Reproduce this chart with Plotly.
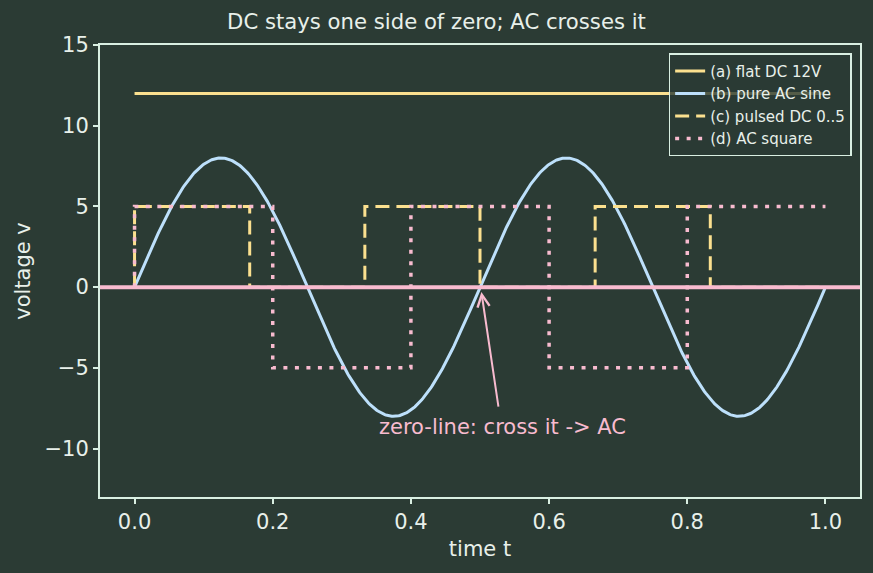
import numpy as np
import plotly.graph_objects as go

# --- data ---
dc_t = [0.0, 1.0]
dc_v = [12, 12]

sine_amp = 8.0
sine_period = 0.5
sine_t = np.linspace(0, 1, 600)
sine_v = sine_amp * np.sin(2 * np.pi * sine_t / sine_period)

pulsed_t = [0.0, 0.0, 1/6, 1/6, 1/3, 1/3, 1/2, 1/2, 2/3, 2/3, 5/6, 5/6, 1.0]
pulsed_v = [0, 5, 5, 0, 0, 5, 5, 0, 0, 5, 5, 0, 0]

square_t = [0.0, 0.0, 0.2, 0.2, 0.4, 0.4, 0.6, 0.6, 0.8, 0.8, 1.0]
square_v = [0, 5, 5, -5, -5, 5, 5, -5, -5, 5, 5]

x_ticks = [0.0, 0.2, 0.4, 0.6, 0.8, 1.0]
y_ticks = [-10, -5, 0, 5, 10, 15]

BG = "#2b3b34"
FG = "#e8f0ea"
FRAME = "#d9efe2"
YEL = "#fbe08f"
BLUE = "#bde0fb"
PINK = "#f8bbcf"

fig = go.Figure()
fig.add_trace(go.Scatter(x=dc_t, y=dc_v, mode="lines", name="(a) flat DC 12V",
                         line=dict(color=YEL, width=3)))
fig.add_trace(go.Scatter(x=sine_t, y=sine_v, mode="lines", name="(b) pure AC sine",
                         line=dict(color=BLUE, width=3)))
fig.add_trace(go.Scatter(x=pulsed_t, y=pulsed_v, mode="lines", name="(c) pulsed DC 0..5",
                         line=dict(color=YEL, width=3, dash="14px,7px")))
fig.add_trace(go.Scatter(x=square_t, y=square_v, mode="lines", name="(d) AC square",
                         line=dict(color=PINK, width=3.5, dash="4px,7.5px")))

fig.add_shape(type="line", xref="paper", yref="y", x0=0, x1=1, y0=0, y1=0,
              line=dict(color=PINK, width=4), layer="above")

fig.add_annotation(x=0.502, y=-0.3, ax=0.527, ay=-7.5, xref="x", yref="y",
                   axref="x", ayref="y", text="", showarrow=True,
                   arrowhead=5, arrowsize=1.2, arrowwidth=2, arrowcolor=PINK)
fig.add_annotation(x=0.533, y=-8.64, xref="x", yref="y", text="zero-line: cross it -> AC",
                   showarrow=False, font=dict(color=PINK, size=21))

axis_common = dict(showgrid=False, zeroline=False, showline=True, linecolor=FRAME,
                   linewidth=2, mirror=True, ticks="outside", ticklen=5, tickwidth=1.5,
                   tickcolor=FRAME, tickfont=dict(color=FG, size=21),
                   title_font=dict(color=FG, size=21))

fig.update_layout(
    width=873, height=573,
    paper_bgcolor=BG, plot_bgcolor=BG,
    margin=dict(l=100, r=13, t=45, b=76),
    font=dict(family="DejaVu Sans", color=FG),
    title=dict(text="DC stays one side of zero; AC crosses it", x=0.5, xref="container",
               xanchor="center", yref="container", y=1 - 22/573, yanchor="middle",
               font=dict(size=21.2, color=FG)),
    xaxis=dict(range=[-0.05, 1.05], tickvals=x_ticks,
               ticktext=[f"{v:.1f}" for v in x_ticks], title=dict(text="time t", standoff=8),
               **axis_common),
    yaxis=dict(range=[-13, 15], tickvals=y_ticks, title=dict(text="voltage v", standoff=8),
               **axis_common),
    legend=dict(x=0.989, xanchor="right", y=0.982, yanchor="top",
                bgcolor="rgba(43,59,52,0.8)", bordercolor=FRAME, borderwidth=1.5,
                font=dict(size=15, color=FG), tracegroupgap=0, itemwidth=30),
    showlegend=True,
)

fig.write_html("out.html")
